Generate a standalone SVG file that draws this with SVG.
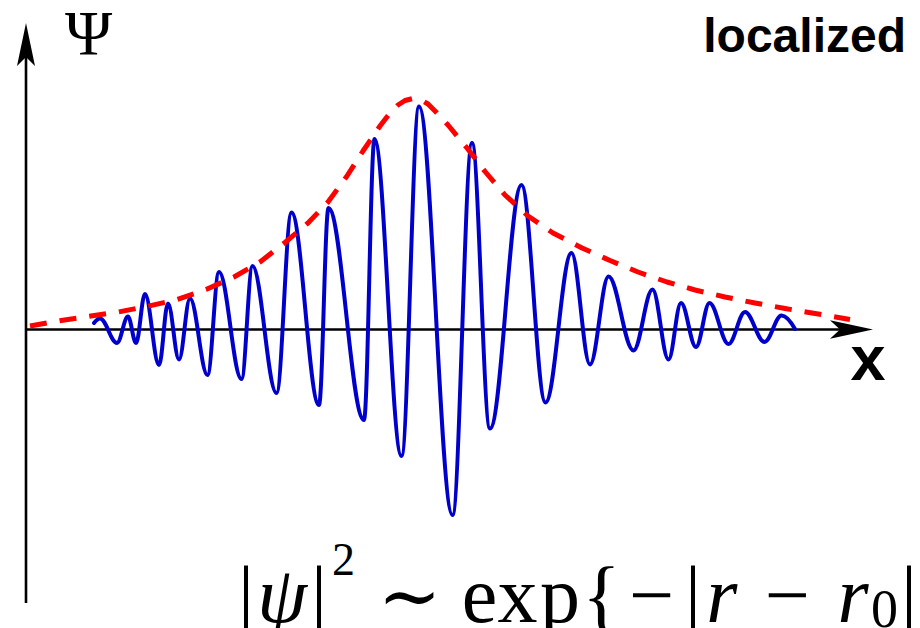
<svg xmlns="http://www.w3.org/2000/svg" width="920" height="628" viewBox="0 0 920 628">
<style>
.axis{stroke:#000;stroke-width:2.6;fill:none}
.head{fill:#000;stroke:none}
.wave{stroke:#0000cc;stroke-width:4;fill:none;stroke-linecap:round;stroke-linejoin:round}
.env{stroke:#ff0000;stroke-width:5;fill:none;stroke-dasharray:17 13;stroke-linejoin:round}
.lab{font-family:"Liberation Sans",Arial,sans-serif;font-weight:bold;fill:#000}
.m{font-family:"Liberation Serif","DejaVu Serif",serif;fill:#000}
.mi{font-family:"Liberation Serif","DejaVu Serif",serif;font-style:italic;fill:#000}
</style>
<rect width="920" height="628" fill="#fff"/>
<g id="axes">
<line class="axis" x1="26" y1="603" x2="26" y2="50"/>
<polygon class="head" points="26,23 35,66 26,57 17,66"/>
<line class="axis" x1="26" y1="329.5" x2="845" y2="329.5"/>
<polygon class="head" points="873,329.5 830,338.8 840,329.5 830,320.2"/>
</g>
<g id="wave">
<path class="wave" d="M94,323 C96,320.5 98,318.5 100,318.5 C106.2,318.5 110.8,343 117,343 C121,343 124,316.5 128,316.5 C130.9,316.5 133.1,343 136,343 C139.3,343 141.7,294 145,294 C150.1,294 153.9,365 159,365 C162.3,365 164.7,303.5 168,303.5 C172,303.5 175,359.5 179,359.5 C183,359.5 186,298.5 190,298.5 C196.4,298.5 201.1,375 207.5,375 C211.7,375 214.8,272 219,272 C227.2,272 233.3,379 241.5,379 C245.5,379 248.5,266 252.5,266 C261.2,266 267.8,393 276.5,393 C282,393 286,212.5 291.5,212.5 C301.5,212.5 309,405 319,405 C322.5,405 325,208 328.5,208 C341.4,208 351.1,420 364,420 C367.8,420 370.7,139 374.5,139 C384.3,139 391.7,456 401.5,456 C407.9,456 412.6,106.5 419,106.5 C431.2,106.5 440.3,515 452.5,515 C459.6,515 464.9,143 472,143 C478.6,143 483.4,428.5 490,428.5 C501.5,428.5 510,185 521.5,185 C530.2,185 536.8,402.5 545.5,402.5 C555,402.5 562,253 571.5,253 C578.2,253 583.3,364.5 590,364.5 C596.7,364.5 601.8,276.5 608.5,276.5 C617.6,276.5 624.4,350.5 633.5,350.5 C640.4,350.5 645.6,289.5 652.5,289.5 C658.3,289.5 662.7,359.5 668.5,359.5 C673.1,359.5 676.4,303 681,303 C686.5,303 690.5,347 696,347 C700.9,347 704.6,303 709.5,303 C716.4,303 721.6,344 728.5,344 C734.5,344 739,312 745,312 C752.1,312 757.4,342 764.5,342 C770.7,342 775.3,315.5 781.5,315.5 C786.5,315.5 791,322 795,329"/>
</g>
<g id="envelope">
<path class="env" d="M30,326 L58,321 L88,316.5 L118,312 L147,306.5 L177,299.5 L206,289.5 L234,277 L260,262 L285,242.5 L308,223 L328,202 L347,176 L363,151 L380,126 L390,113 L398,105 L405,100.5 L413,98.5 L421,100 L428,104 L436,112 L448,125 L467,148 L485,171.5 L505,195 L528,216 L553,233 L582,248 L610,260.5 L638,272 L667,282 L695,290 L725,297 L755,303 L785,308.5 L815,313.5 L850,319.5"/>
</g>
<g id="labels">
<text class="m" x="88.5" y="55" font-size="64" text-anchor="middle">Ψ</text>
<text class="lab" x="906" y="52" font-size="48" text-anchor="end">localized</text>
<text class="lab" x="868" y="380" font-size="63" text-anchor="middle">x</text>
</g>
<g id="formula" font-size="80" text-anchor="middle">
<text class="m" x="246" y="622">|</text>
<text class="mi" x="282" y="622">ψ</text>
<text class="m" x="319" y="622">|</text>
<text class="m" x="343.5" y="575" font-size="46">2</text>
<text class="m" x="409.5" y="622" font-size="76">∼</text>
<text class="m" x="479.4 517.6 560.1" y="622">exp</text>
<text class="m" x="601.5" y="622">{</text>
<text class="m" x="651.6" y="622">−</text>
<text class="m" x="693.1" y="622">|</text>
<text class="mi" x="721.7" y="622">r</text>
<text class="m" x="787.4" y="622">−</text>
<text class="mi" x="853.1" y="622">r</text>
<text class="m" x="884.5" y="627" font-size="54">0</text>
<text class="m" x="909" y="622">|</text>
</g>
</svg>
